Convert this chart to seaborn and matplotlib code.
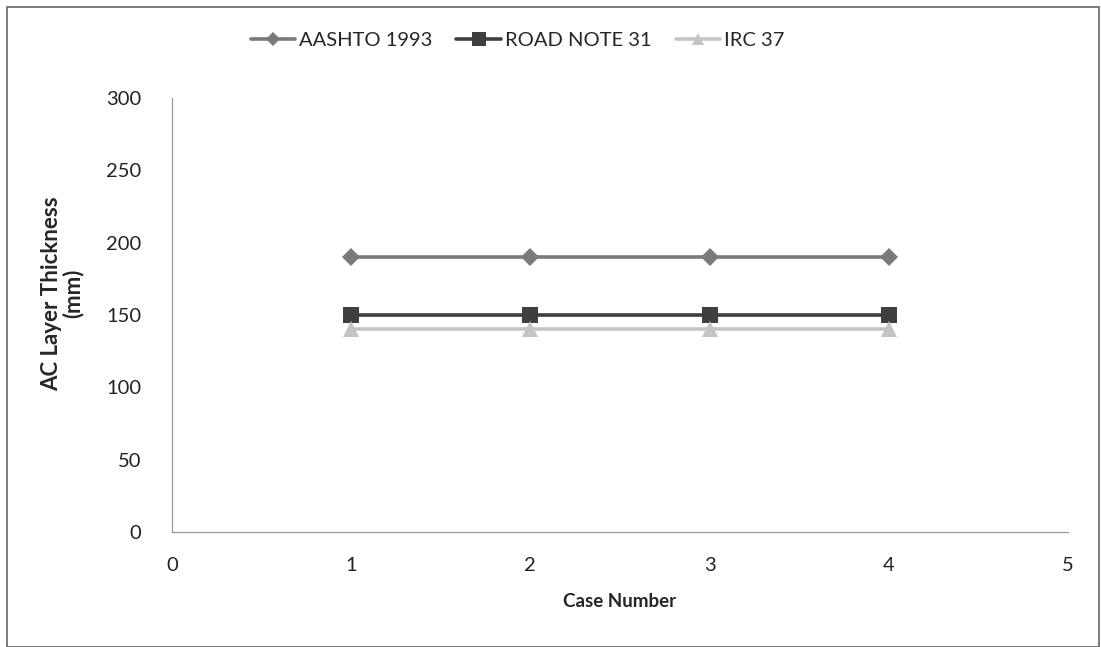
import matplotlib
matplotlib.use("Agg")
import matplotlib.pyplot as plt
from matplotlib.lines import Line2D
from matplotlib.patches import Rectangle
import seaborn as sns
import pandas as pd

cases = [1, 2, 3, 4]
aashto_1993 = [190, 190, 190, 190]
road_note_31 = [150, 150, 150, 150]
irc_37 = [140, 140, 140, 140]
series_names = ["AASHTO 1993", "ROAD NOTE 31", "IRC 37"]

df = pd.DataFrame({
    "Case Number": cases * 3,
    "Thickness": aashto_1993 + road_note_31 + irc_37,
    "Method": [series_names[0]] * 4 + [series_names[1]] * 4 + [series_names[2]] * 4,
})

sns.set_theme(style="white")
plt.rcParams["font.family"] = ["Lato", "DejaVu Sans"]

fig = plt.figure(figsize=(11.01, 6.47), dpi=100)
ax = fig.add_axes([0.1562, 0.1777, 0.970 - 0.1562, 0.8485 - 0.1777])

palette = {"AASHTO 1993": "#7a7a7a", "ROAD NOTE 31": "#3f3f3f", "IRC 37": "#c4c4c4"}
markers = {"AASHTO 1993": "D", "ROAD NOTE 31": "s", "IRC 37": "^"}
sizes_m = {"AASHTO 1993": 9, "ROAD NOTE 31": 12, "IRC 37": 11}

sns.lineplot(data=df, x="Case Number", y="Thickness", hue="Method", style="Method",
             markers=markers, dashes=False, palette=palette, linewidth=2.6,
             markersize=10, markeredgewidth=0, ax=ax, legend=False, zorder=3)

for line, name in zip(ax.get_lines(), series_names):
    line.set_markersize(sizes_m[name])

ax.set_xlim(0, 5)
ax.set_ylim(0, 300)
ax.set_xticks(range(0, 6))
ax.set_yticks(range(0, 301, 50))
ax.tick_params(axis="x", labelsize=14.5, colors="#222222", length=0, pad=18)
ax.tick_params(axis="y", labelsize=14.5, colors="#222222", length=4, direction="out",
               color="#999999", width=0.8, pad=18)

for side in ["top", "right"]:
    ax.spines[side].set_visible(False)
for side in ["left", "bottom"]:
    ax.spines[side].set_color("#999999")
    ax.spines[side].set_linewidth(0.9)

ax.set_xlabel("Case Number", fontsize=13.5, fontweight="bold", labelpad=14)
ax.set_ylabel("AC Layer Thickness\n(mm)", fontsize=16, fontweight="bold", labelpad=16,
              linespacing=1.0)
ax.yaxis.label.set_y(0.55)

handles = [Line2D([0], [0], color=palette[n], marker=markers[n], lw=2.6,
                  markersize=sizes_m[n] * 0.8, markeredgewidth=0) for n in series_names]
fig.legend(handles, series_names, loc="center", bbox_to_anchor=(0.47, 0.938), ncol=3,
           frameon=False, fontsize=14.5, handlelength=2.2, columnspacing=1.2,
           handletextpad=0.2)

fig.patches.append(Rectangle((7 / 1101, 0.0), (1099 - 7) / 1101, 1 - 7 / 647,
                             transform=fig.transFigure, fill=False,
                             edgecolor="#666666", linewidth=1.2))

fig.savefig("out.png", dpi=100)
